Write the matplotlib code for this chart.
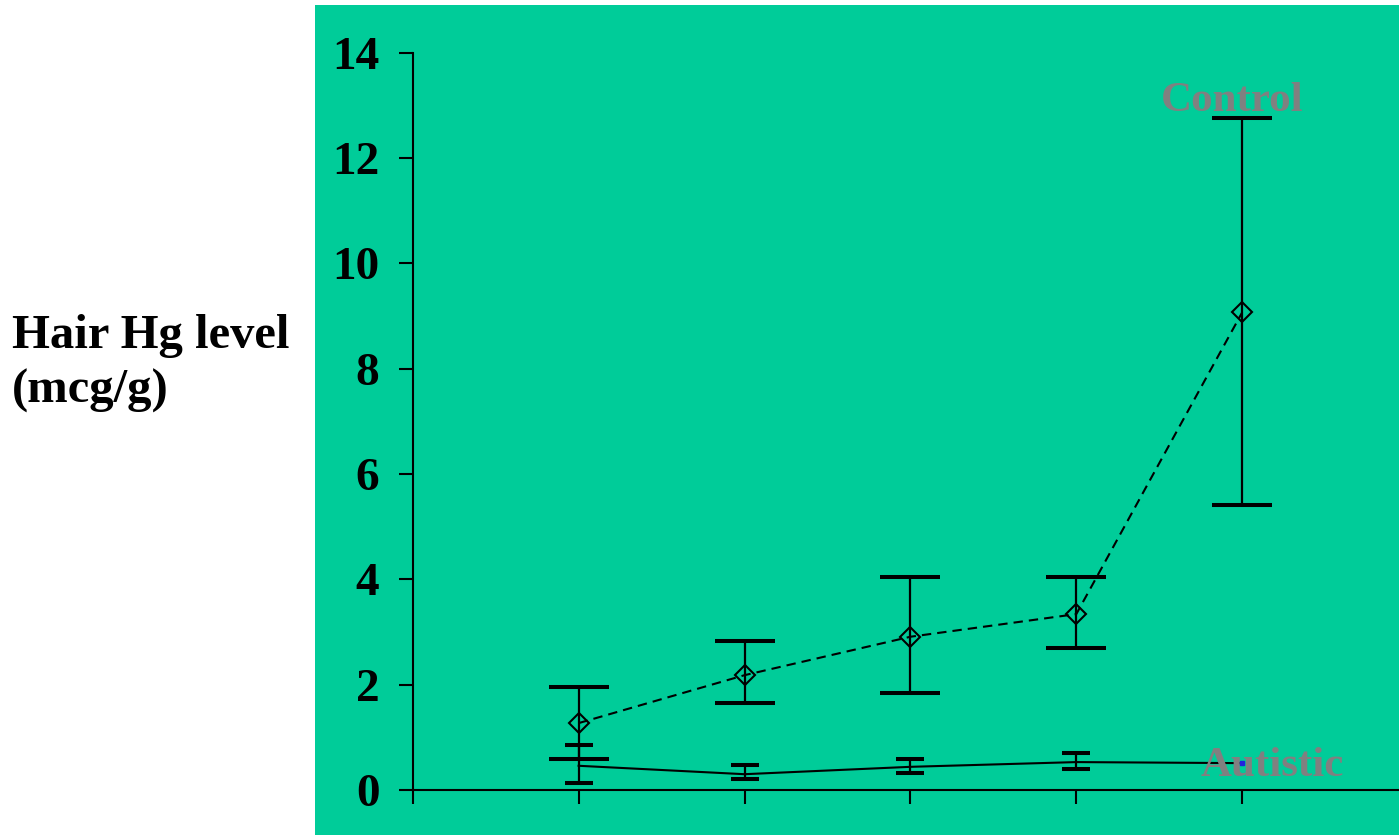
import matplotlib
matplotlib.use("Agg")
import matplotlib.pyplot as plt
from matplotlib.patches import Rectangle

# ---- data ----
groups = [1, 2, 3, 4, 5]
control_mean = [1.27, 2.18, 2.91, 3.34, 9.07]
control_upper = [1.96, 2.83, 4.04, 4.04, 12.76]
control_lower = [0.59, 1.65, 1.84, 2.70, 5.41]
autistic_mean = [0.46, 0.30, 0.44, 0.53, 0.51]
autistic_upper = [0.85, 0.47, 0.59, 0.70, 0.51]
autistic_lower = [0.13, 0.21, 0.32, 0.39, 0.51]
yticks = [0, 2, 4, 6, 8, 10, 12, 14]
xticks = [0, 1, 2, 3, 4, 5, 6]

W, H = 1399, 835
TEAL = "#00CC99"
SERIF = ["Liberation Serif", "DejaVu Serif"]

fig = plt.figure(figsize=(W / 100, H / 100), dpi=100)
fig.patch.set_facecolor("white")
fig.add_artist(Rectangle((315 / W, 0), (W - 315) / W, (H - 5) / H,
                         transform=fig.transFigure, facecolor=TEAL,
                         edgecolor="none", zorder=0))

x0, y0, ytop = 412.7, 790.0, 52.7
step = 165.9
ax = fig.add_axes([x0 / W, (H - y0) / H, 6 * step / W, (y0 - ytop) / H])
ax.set_facecolor("none")
ax.set_xlim(0, 6)
ax.set_ylim(0, 14)
for s in ("top", "right"):
    ax.spines[s].set_visible(False)
for s in ("left", "bottom"):
    ax.spines[s].set_linewidth(1.5)
    ax.spines[s].set_color("black")
ax.set_xticks(xticks)
ax.set_xticklabels([])
ax.set_yticks(yticks)
ax.set_yticklabels([str(v) for v in yticks], fontfamily=SERIF,
                   fontweight="bold", fontsize=34)
ax.tick_params(axis="both", direction="out", length=10, width=1.5, color="black")
ax.tick_params(axis="y", pad=14)

# Autistic series
a_err = [[m - lo for m, lo in zip(autistic_mean, autistic_lower)],
         [up - m for m, up in zip(autistic_mean, autistic_upper)]]
ax.plot(groups, autistic_mean, color="black", lw=1.5, zorder=3)
ax.errorbar(groups[:4], autistic_mean[:4], yerr=[a_err[0][:4], a_err[1][:4]],
            fmt="none", ecolor="black", elinewidth=1.6, capsize=10,
            capthick=2.9, zorder=4)

# Control series
c_err = [[m - lo for m, lo in zip(control_mean, control_lower)],
         [up - m for m, up in zip(control_mean, control_upper)]]
ax.plot(groups, control_mean, color="black", lw=1.5, ls=(0, (4.5, 2.9)),
        marker="D", ms=9.9, mfc="none", mec="black", mew=1.5, zorder=3)
ax.errorbar(groups, control_mean, yerr=c_err, fmt="none", ecolor="black",
            elinewidth=1.6, capsize=21.5, capthick=2.9, zorder=4)

# Labels
ax.text(4.94, 12.89, "Control", fontfamily=SERIF, fontweight="bold",
        fontsize=31, color="#808080", ha="center", va="baseline", zorder=5)
ax.text(5.18, 0.266, "Autistic", fontfamily=SERIF, fontweight="bold",
        fontsize=31, color="#808080", ha="center", va="baseline", zorder=5)
ax.plot([groups[4]], [autistic_mean[4]], marker="s", ms=3.5, color="#2222DD",
        ls="none", zorder=6)

fig.text(12 / W, 1 - 348 / H, "Hair Hg level", fontfamily=SERIF,
         fontweight="bold", fontsize=35, ha="left", va="baseline")
fig.text(12 / W, 1 - 403 / H, "(mcg/g)", fontfamily=SERIF,
         fontweight="bold", fontsize=35, ha="left", va="baseline")

fig.savefig("out.png", dpi=100)
